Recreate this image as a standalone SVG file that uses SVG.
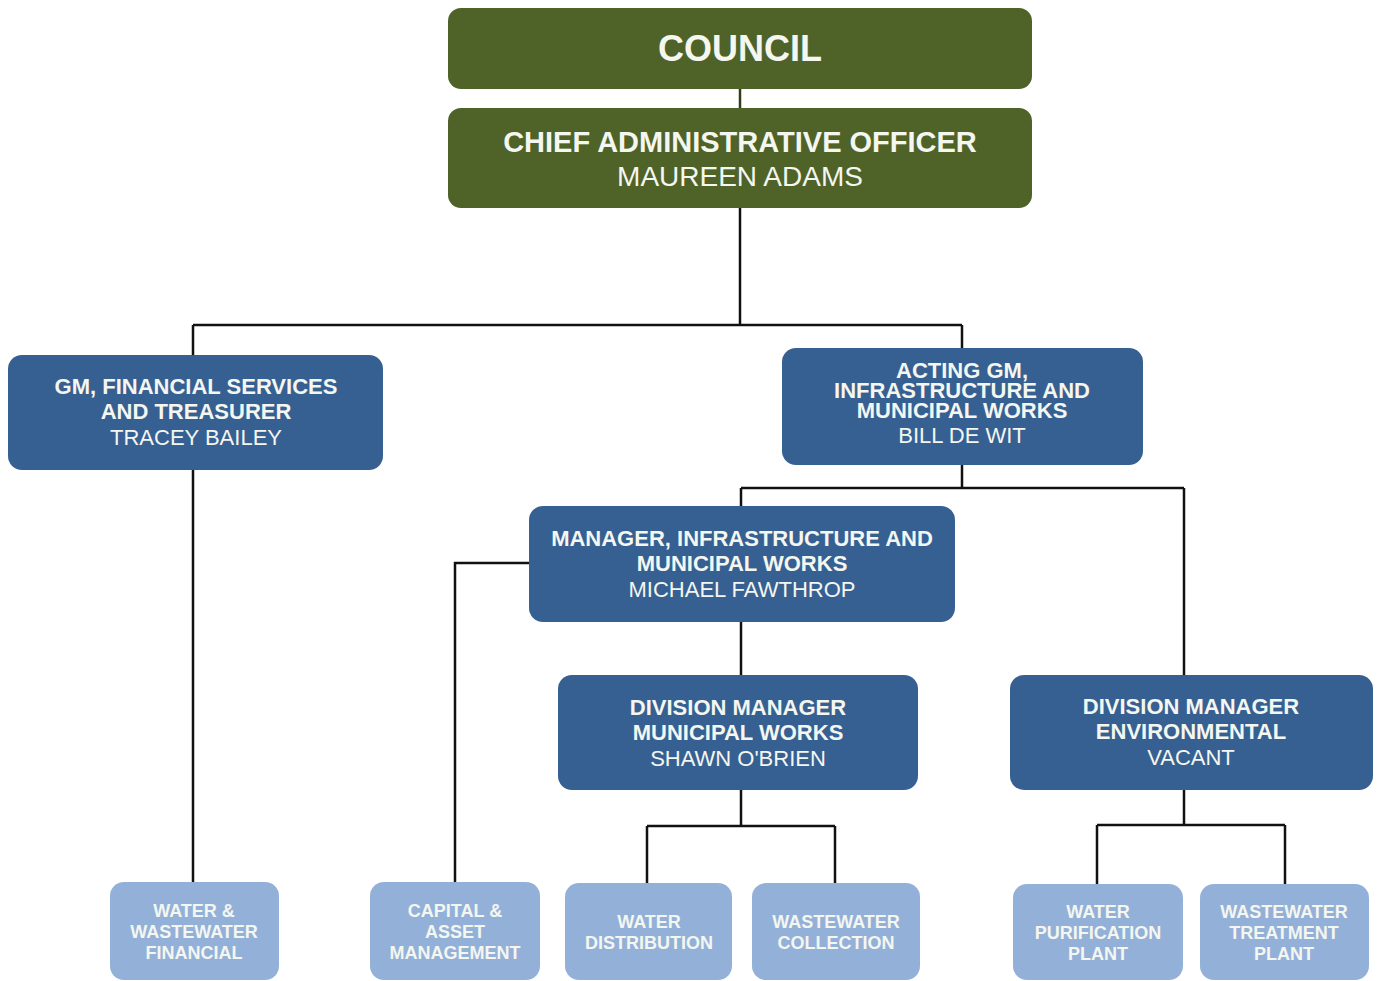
<svg xmlns="http://www.w3.org/2000/svg" width="1380" height="981" viewBox="0 0 1380 981">
<style>
.green{fill:#4f6228;}
.blue{fill:#376092;}
.light{fill:#93b1d8;}
text{font-family:"Liberation Sans",Arial,sans-serif;fill:#f4f6f0;text-anchor:middle;}
.b{font-weight:bold;}
.t22{font-size:22px;}
.t18{font-size:18px;font-weight:bold;}
.conn{fill:none;stroke:#111;stroke-width:2.5;}
</style>
<rect width="1380" height="981" fill="#ffffff"/>
<g id="connectors" class="conn">
<path d="M740 89 V108" stroke="#2f3d18"/>
<path d="M740 208 V325 M193 325 H962 M193 325 V355 M962 325 V348"/>
<path d="M193 470 V882"/>
<path d="M962 465 V488 M741 488 H1184 M741 488 V506 M1184 488 V675"/>
<path d="M529 563 H455 V882"/>
<path d="M741 622 V675"/>
<path d="M741 790 V826 M647 826 H835 M647 826 V883 M835 826 V883"/>
<path d="M1184 790 V825 M1097 825 H1285 M1097 825 V884 M1285 825 V884"/>
</g>
<g id="council">
<rect class="green" x="448" y="8" width="584" height="81" rx="13"/>
<text class="b" x="740" y="61" font-size="36">COUNCIL</text>
</g>
<g id="cao">
<rect class="green" x="448" y="108" width="584" height="100" rx="13"/>
<text class="b" x="740" y="152" font-size="29">CHIEF ADMINISTRATIVE OFFICER</text>
<text x="740" y="186" font-size="28">MAUREEN ADAMS</text>
</g>
<g id="gm-financial">
<rect class="blue" x="8" y="355" width="375" height="115" rx="14"/>
<text class="b t22" x="196" y="394">GM, FINANCIAL SERVICES</text>
<text class="b t22" x="196" y="419">AND TREASURER</text>
<text class="t22" x="196" y="445">TRACEY BAILEY</text>
</g>
<g id="acting-gm">
<rect class="blue" x="782" y="348" width="361" height="117" rx="14"/>
<text class="b t22" x="962" y="378">ACTING GM,</text>
<text class="b t22" x="962" y="398">INFRASTRUCTURE AND</text>
<text class="b t22" x="962" y="418">MUNICIPAL WORKS</text>
<text class="t22" x="962" y="443">BILL DE WIT</text>
</g>
<g id="manager-infra">
<rect class="blue" x="529" y="506" width="426" height="116" rx="14"/>
<text class="b t22" x="742" y="546">MANAGER, INFRASTRUCTURE AND</text>
<text class="b t22" x="742" y="571">MUNICIPAL WORKS</text>
<text class="t22" x="742" y="597">MICHAEL FAWTHROP</text>
</g>
<g id="div-municipal">
<rect class="blue" x="558" y="675" width="360" height="115" rx="14"/>
<text class="b t22" x="738" y="715">DIVISION MANAGER</text>
<text class="b t22" x="738" y="740">MUNICIPAL WORKS</text>
<text class="t22" x="738" y="766">SHAWN O'BRIEN</text>
</g>
<g id="div-environmental">
<rect class="blue" x="1010" y="675" width="363" height="115" rx="14"/>
<text class="b t22" x="1191" y="714">DIVISION MANAGER</text>
<text class="b t22" x="1191" y="739">ENVIRONMENTAL</text>
<text class="t22" x="1191" y="765">VACANT</text>
</g>
<g id="ww-financial">
<rect class="light" x="110" y="882" width="169" height="98" rx="14"/>
<text class="t18" x="194" y="917">WATER &amp;</text>
<text class="t18" x="194" y="938">WASTEWATER</text>
<text class="t18" x="194" y="959">FINANCIAL</text>
</g>
<g id="capital-asset">
<rect class="light" x="370" y="882" width="170" height="98" rx="14"/>
<text class="t18" x="455" y="917">CAPITAL &amp;</text>
<text class="t18" x="455" y="938">ASSET</text>
<text class="t18" x="455" y="959">MANAGEMENT</text>
</g>
<g id="water-distribution">
<rect class="light" x="565" y="883" width="167" height="97" rx="14"/>
<text class="t18" x="649" y="928">WATER</text>
<text class="t18" x="649" y="949">DISTRIBUTION</text>
</g>
<g id="wastewater-collection">
<rect class="light" x="752" y="883" width="168" height="97" rx="14"/>
<text class="t18" x="836" y="928">WASTEWATER</text>
<text class="t18" x="836" y="949">COLLECTION</text>
</g>
<g id="water-purification">
<rect class="light" x="1013" y="884" width="170" height="96" rx="14"/>
<text class="t18" x="1098" y="918">WATER</text>
<text class="t18" x="1098" y="939">PURIFICATION</text>
<text class="t18" x="1098" y="960">PLANT</text>
</g>
<g id="wastewater-treatment">
<rect class="light" x="1200" y="884" width="169" height="96" rx="14"/>
<text class="t18" x="1284" y="918">WASTEWATER</text>
<text class="t18" x="1284" y="939">TREATMENT</text>
<text class="t18" x="1284" y="960">PLANT</text>
</g>
</svg>
